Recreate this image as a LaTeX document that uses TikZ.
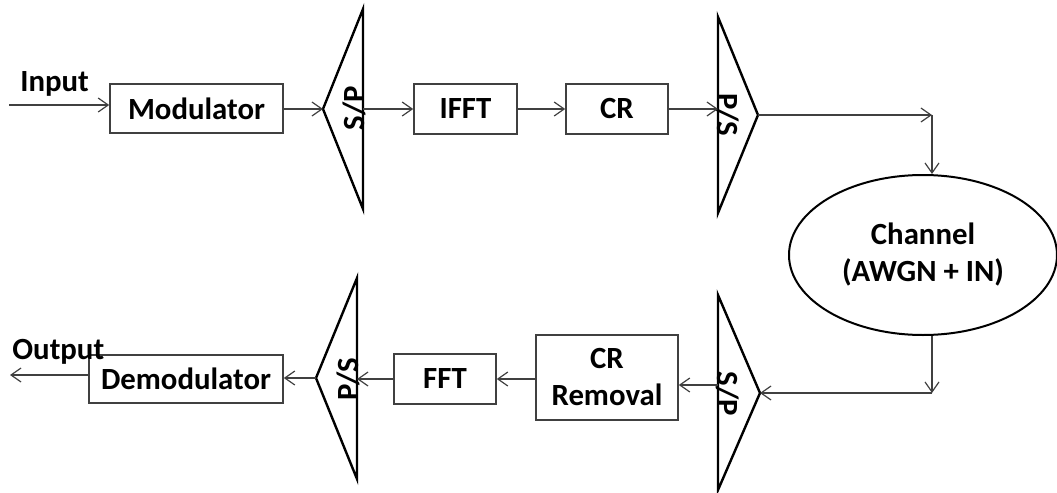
\documentclass[tikz,border=0pt]{standalone}
\usepackage{fontspec}
\setmainfont{Carlito}
\usetikzlibrary{arrows.meta,shapes.geometric}

\tikzset{
	block/.style={draw=black!75, line width=0.8pt, inner sep=0pt, align=center,
		font=\bfseries\fontsize{15.4pt}{18.5pt}\selectfont},
	label/.style={inner sep=0pt, font=\bfseries\fontsize{15.4pt}{18.5pt}\selectfont},
	conv/.style={draw=black, line width=1.2pt, line join=miter},
	link/.style={draw=black!75, line width=0.6pt, -{Straight Barb[length=5pt,width=7pt]}},
}

\begin{document}
\begin{tikzpicture}[x=0.5pt, y=-0.5pt]
	\useasboundingbox (0,0) rectangle (1057,493);
	% transmitter
	\node[block, minimum width=86.5pt, minimum height=24.5pt] (mod) at (196.5,108.5) {Modulator};
	\node[block, minimum width=51.5pt, minimum height=25pt] (ifft) at (465.5,109) {IFFT};
	\node[block, minimum width=51pt, minimum height=25pt] (cr) at (617,109) {CR};
	% channel
	\node[block, ellipse, draw=black, line width=1pt, minimum width=134pt, minimum height=80pt] (chan) at (923,255) {Channel\\(AWGN + IN)};
	% receiver
	\node[block, minimum width=71pt, minimum height=42.5pt] (crrem) at (607,377.5) {CR\\Removal};
	\node[block, minimum width=51pt, minimum height=25pt] (fft) at (445,379) {FFT};
	\node[block, minimum width=97pt, minimum height=24pt] (demod) at (186,379) {Demodulator};
	% converters
	\coordinate (sp1) at (323,109);
	\coordinate (sp1top) at (363,9);
	\coordinate (sp1bot) at (363,209);
	\coordinate (ps1) at (758,115);
	\coordinate (ps1top) at (718,17);
	\coordinate (ps1bot) at (718,213);
	\coordinate (sp2) at (760,393);
	\coordinate (sp2top) at (718,295);
	\coordinate (sp2bot) at (718,490);
	\coordinate (ps2) at (316,378);
	\coordinate (ps2top) at (357,278);
	\coordinate (ps2bot) at (357,479);
	\draw[conv] (sp1top) -- (sp1) -- (sp1bot) -- cycle;
	\draw[conv] (ps1top) -- (ps1) -- (ps1bot) -- cycle;
	\draw[conv] (sp2top) -- (sp2) -- (sp2bot) -- cycle;
	\draw[conv] (ps2top) -- (ps2) -- (ps2bot) -- cycle;
	\node[label, rotate=90] (sp1lab) at (354,108) {S/P};
	\node[label, rotate=-90] (ps1lab) at (728,115) {P/S};
	\node[label, rotate=-90] (sp2lab) at (728,394) {S/P};
	\node[label, rotate=90] (ps2lab) at (348,379) {P/S};
	% input and output
	\node[label, anchor=base west] (inlab) at (20,91) {Input};
	\node[label, anchor=base west] (outlab) at (12,359) {Output};
	\coordinate (inp) at (9,105);
	\coordinate (outp) at (10,375);
	\coordinate (ctop) at (932,115);
	\coordinate (cbot) at (932,393);
	\coordinate (sp2out) at (718,385);
	% connectors
	\draw[link] (inp) -- (inp -| mod.west);
	\draw[link] (mod.east |- sp1) -- (sp1);
	\draw[link] (sp1top |- ifft) -- (ifft.west);
	\draw[link] (ifft) -- (cr);
	\draw[link] (cr.east) -- (cr.east -| ps1top);
	\draw[link] (ps1) -- (ctop);
	\draw[link] (ctop) -- (ctop |- chan.north);
	\draw[link] (cbot |- chan.south) -- (cbot);
	\draw[link] (cbot) -- (sp2);
	\draw[link] (sp2out) -- (sp2out -| crrem.east);
	\draw[link] (crrem.west |- fft) -- (fft.east);
	\draw[link] (fft.west) -- (fft -| ps2top);
	\draw[link] (ps2) -- (ps2 -| demod.east);
	\draw[link] (outp -| demod.west) -- (outp);
\end{tikzpicture}
\end{document}
